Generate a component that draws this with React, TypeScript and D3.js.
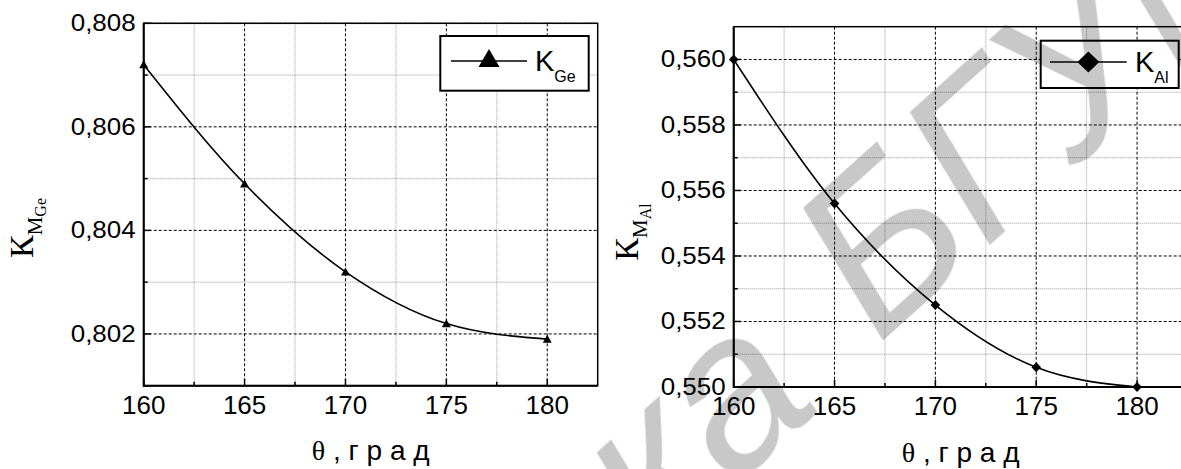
import React from "react";
import * as d3 from "d3";

const thetaValues = [160, 165, 170, 175, 180];
const kGeValues = [0.8072, 0.8049, 0.8032, 0.8022, 0.8019];
const kAlValues = [0.56, 0.5556, 0.5525, 0.5506, 0.55];
const xTickValues = [160, 165, 170, 175, 180];
const xMinorValues = [162.5, 167.5, 172.5, 177.5];
const geMajorTicks = [0.802, 0.804, 0.806, 0.808];
const geMinorTicks = [0.801, 0.803, 0.805, 0.807];
const alMajorTicks = [0.55, 0.552, 0.554, 0.556, 0.558, 0.56];
const alMinorTicks = [0.551, 0.553, 0.555, 0.557, 0.559];
const geLegendLabel = ["K", "Ge"];
const alLegendLabel = ["K", "Al"];
const xAxisTitle = ["θ", " , г р а д"];
const watermarkWords = ["Библиотека", "БГУИР"];

const SANS = "'Liberation Sans', Arial, sans-serif";
const SERIF = "'Liberation Serif', 'Times New Roman', serif";

type PanelProps = {
  left: number; right: number; top: number; bottom: number;
  yDomain: [number, number];
  yMajor: number[]; yMinor: number[];
  values: number[];
  marker: "tri" | "diamond";
  legendBox: [number, number, number, number];
  legendLine: [number, number, number];
  legendText: [number, number];
  legendLabel: string[];
  ySub: string;
  yTitlePos: [number, number];
  xTitleY: number;
};

function triPath(x: number, y: number, w: number, h: number) {
  return `M${x},${y - h * 0.55}L${x + w / 2},${y + h * 0.45}L${x - w / 2},${y + h * 0.45}Z`;
}
function diaPath(x: number, y: number, rx: number, ry: number) {
  return `M${x},${y - ry}L${x + rx},${y}L${x},${y + ry}L${x - rx},${y}Z`;
}

function Panel(p: PanelProps) {
  const xs = d3.scaleLinear().domain([160, 182.5]).range([p.left, p.right]);
  const ys = d3.scaleLinear().domain(p.yDomain).range([p.bottom, p.top]);
  const pts: [number, number][] = thetaValues.map((t, i) => [xs(t), ys(p.values[i])]);
  const line = d3.line<[number, number]>().x(d => d[0]).y(d => d[1]).curve(d3.curveMonotoneX);
  const fmt = (v: number) => v.toFixed(3).replace(".", ",");
  const [lx0, lx1, ly] = p.legendLine;
  const lcx = (lx0 + lx1) / 2;
  return (
    <g>
      {xMinorValues.map(v => (
        <line key={"xm" + v} x1={xs(v)} x2={xs(v)} y1={p.top} y2={p.bottom} stroke="#9a9a9a" strokeWidth={1} strokeDasharray="1,1" />
      ))}
      {p.yMinor.map(v => (
        <line key={"ym" + v} x1={p.left} x2={p.right} y1={ys(v)} y2={ys(v)} stroke="#9a9a9a" strokeWidth={1} strokeDasharray="1,1" />
      ))}
      {xTickValues.slice(1).map(v => (
        <line key={"xg" + v} x1={xs(v)} x2={xs(v)} y1={p.top} y2={p.bottom} stroke="#000" strokeWidth={1} strokeDasharray="3,2" />
      ))}
      {p.yMajor.map(v => (
        <line key={"yg" + v} x1={p.left} x2={p.right} y1={ys(v)} y2={ys(v)} stroke="#000" strokeWidth={1} strokeDasharray="3,2" />
      ))}
      {xTickValues.map(v => (
        <line key={"xt" + v} x1={xs(v)} x2={xs(v)} y1={p.bottom} y2={p.bottom - 7} stroke="#000" strokeWidth={1.5} />
      ))}
      {xMinorValues.map(v => (
        <line key={"xmt" + v} x1={xs(v)} x2={xs(v)} y1={p.bottom} y2={p.bottom - 4} stroke="#000" strokeWidth={1.5} />
      ))}
      {p.yMajor.map(v => (
        <line key={"yt" + v} x1={p.left} x2={p.left + 7} y1={ys(v)} y2={ys(v)} stroke="#000" strokeWidth={1.5} />
      ))}
      {p.yMinor.map(v => (
        <line key={"ymt" + v} x1={p.left} x2={p.left + 4} y1={ys(v)} y2={ys(v)} stroke="#000" strokeWidth={1.5} />
      ))}
      <rect x={p.left} y={p.top} width={p.right - p.left} height={p.bottom - p.top} fill="none" stroke="#000" strokeWidth={1.5} />
      <line x1={p.left} x2={p.left} y1={p.top} y2={p.bottom + 1} stroke="#000" strokeWidth={2} />
      <line x1={p.left} x2={p.right} y1={p.bottom} y2={p.bottom} stroke="#000" strokeWidth={2} />
      <path d={line(pts) || ""} fill="none" stroke="#000" strokeWidth={1.6} />
      {pts.map((d, i) => (
        <path key={"mk" + i} d={p.marker === "tri" ? triPath(d[0], d[1], 9, 8) : diaPath(d[0], d[1], 4.8, 5)} fill="#000" />
      ))}
      {p.yMajor.map(v => (
        <text key={"yl" + v} x={p.left - 8} y={ys(v) + 8} textAnchor="end" fontFamily={SANS} fontSize={23} textLength={65} lengthAdjust="spacingAndGlyphs">{fmt(v)}</text>
      ))}
      {xTickValues.map(v => (
        <text key={"xl" + v} x={xs(v)} y={p.bottom + 28} textAnchor="middle" fontFamily={SANS} fontSize={26}>{v}</text>
      ))}
      <rect x={p.legendBox[0]} y={p.legendBox[1]} width={p.legendBox[2] - p.legendBox[0]} height={p.legendBox[3] - p.legendBox[1]} fill="#fff" stroke="#000" strokeWidth={2} />
      <line x1={lx0} x2={lx1} y1={ly} y2={ly} stroke="#000" strokeWidth={1.6} />
      <path d={p.marker === "tri" ? triPath(lcx, ly - 2, 21, 18) : diaPath(lcx, ly, 11, 10.5)} fill="#000" />
      <text x={p.legendText[0]} y={p.legendText[1]} fontFamily={SANS} fontSize={29}>
        {p.legendLabel[0]}
        <tspan fontSize={16} dy={11}>{p.legendLabel[1]}</tspan>
      </text>
      <text transform={`translate(${p.yTitlePos[0]},${p.yTitlePos[1]}) rotate(-90)`} textAnchor="middle" fontFamily={SERIF} fontSize={34}>
        К<tspan fontSize={21} dy={9}>M</tspan><tspan fontSize={16} dy={4}>{p.ySub}</tspan>
      </text>
      <text x={(p.left + p.right) / 2} y={p.xTitleY} textAnchor="middle" fontSize={28} fontFamily={SANS}>
        <tspan fontFamily={SERIF}>{xAxisTitle[0]}</tspan>{xAxisTitle[1]}
      </text>
    </g>
  );
}

export default function App() {
  return (
    <svg width={1181} height={469} style={{ position: "absolute", left: 0, top: 0, background: "#fff" }}>
      <rect x={0} y={0} width={1181} height={469} fill="#fff" />
      <Panel left={143.7} right={597.7} top={23.3} bottom={385.7} yDomain={[0.801, 0.808]}
        yMajor={geMajorTicks} yMinor={geMinorTicks} values={kGeValues} marker="tri"
        legendBox={[440.3, 36, 588.7, 90.7]} legendLine={[451, 527, 61]} legendText={[535, 71]}
        legendLabel={geLegendLabel} ySub="Ge" yTitlePos={[33, 228]} xTitleY={460} />
      <Panel left={733.7} right={1187.5} top={26.7} bottom={387} yDomain={[0.55, 0.561]}
        yMajor={alMajorTicks} yMinor={alMinorTicks} values={kAlValues} marker="diamond"
        legendBox={[1040.7, 40.7, 1178.7, 88]} legendLine={[1050, 1126.7, 62]} legendText={[1135, 71.7]}
        legendLabel={alLegendLabel} ySub="Al" yTitlePos={[638, 232]} xTitleY={462} />
      <g style={{ mixBlendMode: "multiply" }} fill="#c8c8c8" fontFamily={SANS} fontStyle="italic" fontSize={220}>
        <text transform="translate(824,406) rotate(-42)" textAnchor="end">{watermarkWords[0]}</text>
        <text transform="translate(878,345) rotate(-42)" textAnchor="start">{watermarkWords[1]}</text>
      </g>
    </svg>
  );
}
